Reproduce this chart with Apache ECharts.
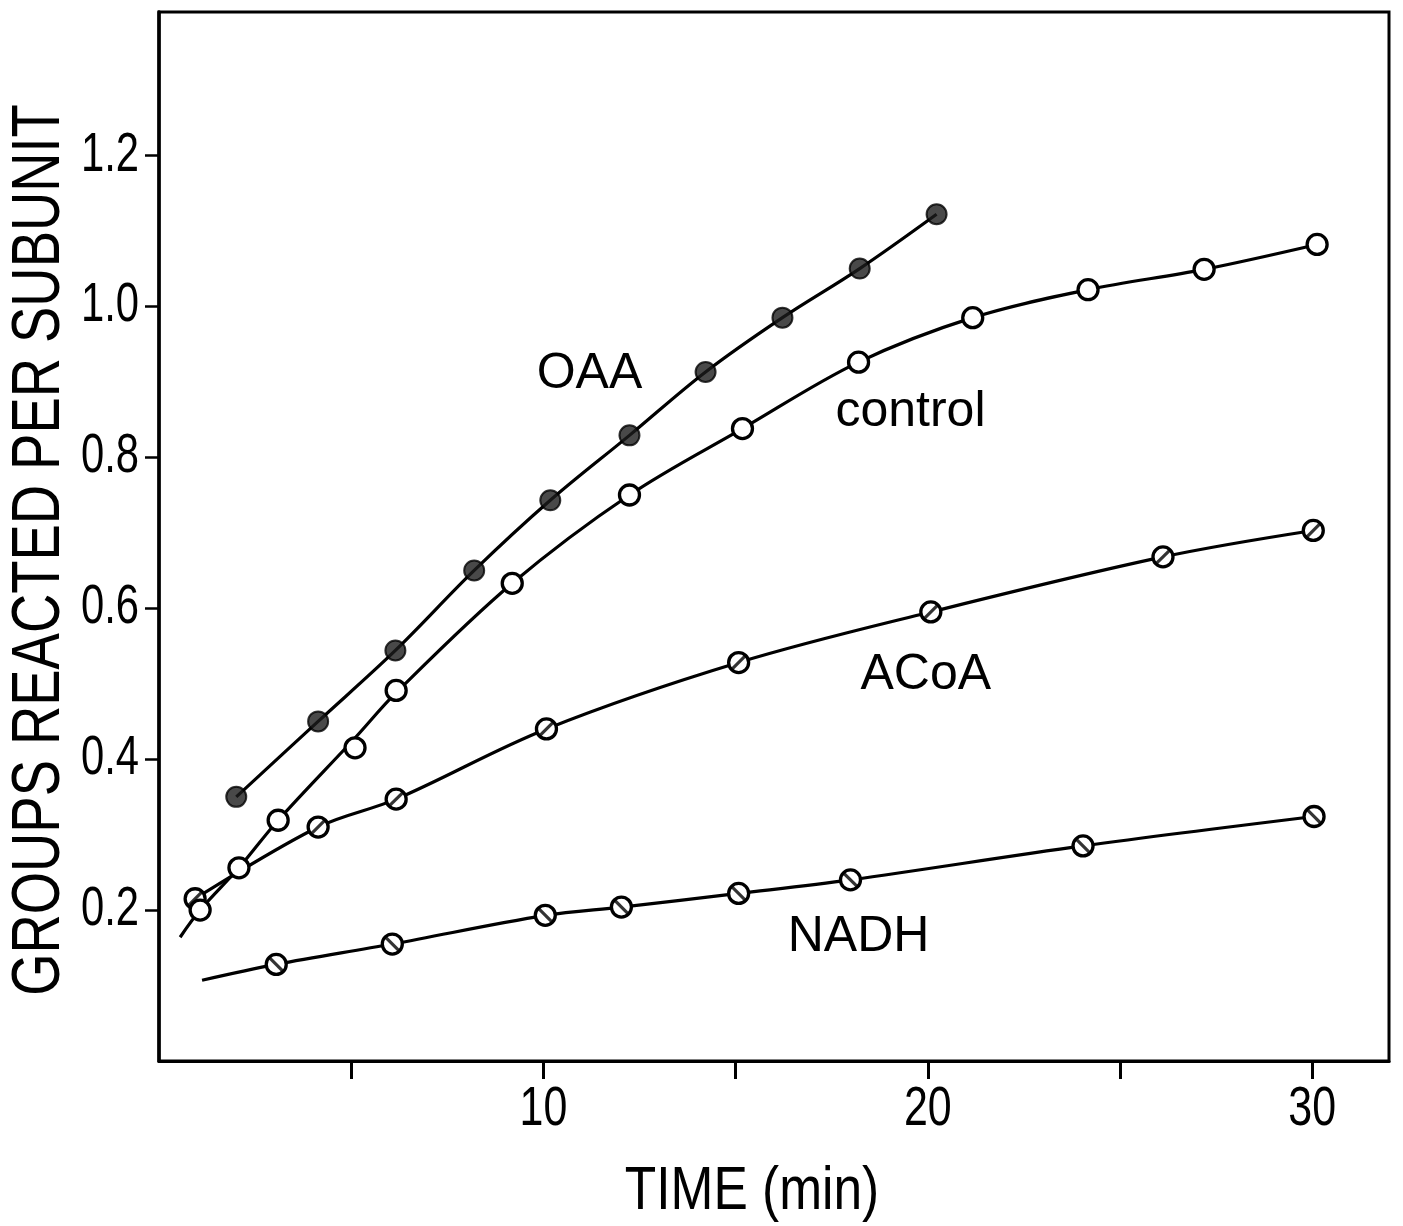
<!DOCTYPE html>
<html>
<head>
<meta charset="utf-8">
<script src="https://cdn.jsdelivr.net/npm/echarts@6/dist/echarts.min.js"></script>
<style>
  html, body { margin: 0; padding: 0; background: #fff; }
  #chart { width: 1403px; height: 1226px; }
</style>
</head>
<body>
<div id="chart"></div>
<script>
// ---- data ----
const oaaTime      = [2.01, 4.14, 6.15, 8.20, 10.18, 12.24, 14.22, 16.22, 18.23, 20.23];
const oaaGroups    = [0.350, 0.450, 0.544, 0.650, 0.743, 0.829, 0.913, 0.985, 1.050, 1.122];

const controlTime   = [1.07, 2.08, 3.10, 5.10, 6.17, 9.19, 12.24, 15.18, 18.20, 21.17, 24.17, 27.19, 30.13];
const controlGroups = [0.200, 0.256, 0.319, 0.415, 0.491, 0.633, 0.750, 0.838, 0.926, 0.985, 1.022, 1.049, 1.082];
// the drawn (fitted) control curve, read along the line itself
const controlCurveTime   = [0.55, 1.07, 2.08, 3.10, 5.10, 6.17, 9.19, 12.24, 15.18, 18.20, 21.17, 24.17, 27.19, 30.13];
const controlCurveGroups = [0.164, 0.200, 0.256, 0.319, 0.428, 0.488, 0.633, 0.750, 0.838, 0.926, 0.985, 1.022, 1.049, 1.082];

const acoaTime   = [0.94, 4.14, 6.17, 10.08, 15.08, 20.08, 26.12, 30.03];
const acoaGroups = [0.215, 0.310, 0.347, 0.440, 0.528, 0.595, 0.668, 0.703];

const nadhTime   = [3.05, 6.07, 10.05, 12.03, 15.08, 17.99, 24.04, 30.05];
const nadhGroups = [0.128, 0.155, 0.193, 0.204, 0.222, 0.240, 0.285, 0.324];
const nadhCurveStart = [1.12, 0.107];      // fitted curve begins here (no marker)

const xTickValues  = [5, 10, 15, 20, 25, 30];
const xLabelValues = [10, 20, 30];
const yTickValues  = [0.2, 0.4, 0.6, 0.8, 1.0, 1.2];

const xTitle = 'TIME (min)';
const yTitle = 'GROUPS REACTED PER SUBUNIT';

const curveLabels = [
  { text: 'OAA',     t: 11.2, g: 0.91 },
  { text: 'control', t: 19.55, g: 0.86 },
  { text: 'ACoA',    t: 19.95, g: 0.511 },
  { text: 'NADH',    t: 18.2, g: 0.164 }
];

// ---- build ----
const zip = (a, b) => a.map((v, i) => [v, b[i]]);
const oaa = zip(oaaTime, oaaGroups);
const control = zip(controlTime, controlGroups);
const controlCurve = zip(controlCurveTime, controlCurveGroups);
const acoa = zip(acoaTime, acoaGroups);
const nadh = zip(nadhTime, nadhGroups);

const FONT = "'Liberation Sans', Arimo, sans-serif";

const chart = echarts.init(document.getElementById('chart'), null, { renderer: 'canvas' });

const lineBase = {
  type: 'line', smooth: 0.35, showSymbol: false, symbol: 'none',
  lineStyle: { color: '#000', width: 3.2 }, z: 2, silent: true
};
const ring = {
  type: 'scatter', symbol: 'circle', symbolSize: 20,
  itemStyle: { color: '#fff', borderColor: '#000', borderWidth: 3.3, opacity: 1 },
  z: 5, silent: true
};
const slash = (data, rot) => ({
  type: 'scatter', symbol: 'rect', symbolSize: [3.2, 18], symbolRotate: rot,
  itemStyle: { color: '#000' }, data, z: 6, silent: true
});

const option = {
  animation: false,
  backgroundColor: '#fff',
  grid: {
    left: 159, right: 14, top: 12, bottom: 165,
    show: true, borderColor: '#000', borderWidth: 3, backgroundColor: 'transparent'
  },
  xAxis: {
    type: 'value', min: 0, max: 32, interval: 5,
    axisLine: { show: true, onZero: false, lineStyle: { color: '#000', width: 3 } },
    axisTick: { show: true, inside: false, length: 18, customValues: xTickValues,
                lineStyle: { color: '#000', width: 3 } },
    axisLabel: { show: false },
    splitLine: { show: false }
  },
  yAxis: {
    type: 'value', min: 0, max: 1.39, interval: 0.2,
    axisLine: { show: true, onZero: false, lineStyle: { color: '#000', width: 3.5 } },
    axisTick: { show: true, inside: false, length: 14, customValues: yTickValues,
                lineStyle: { color: '#000', width: 2.5 } },
    axisLabel: { show: false },
    splitLine: { show: false }
  },
  series: [
    Object.assign({}, lineBase, { name: 'OAA curve', data: oaa }),
    Object.assign({}, lineBase, { name: 'control curve', data: controlCurve }),
    Object.assign({}, lineBase, { name: 'ACoA curve', data: acoa }),
    Object.assign({}, lineBase, { name: 'NADH curve', data: [nadhCurveStart].concat(nadh) }),
    Object.assign({}, ring, { name: 'ACoA', data: acoa }),
    slash(acoa, -45),
    Object.assign({}, ring, { name: 'control', data: control, z: 7 }),
    Object.assign({}, ring, { name: 'NADH', data: nadh }),
    slash(nadh, 45),
    {
      type: 'scatter', name: 'OAA', symbol: 'circle', symbolSize: 20, data: oaa,
      itemStyle: { color: '#1c1c1c', borderColor: '#000', borderWidth: 2 }, z: 8, silent: true
    }
  ]
};
chart.setOption(option);

// ---- text placed through the chart's own axis scales (narrow lettering via scaleX) ----
const px = v => chart.convertToPixel({ gridIndex: 0 }, v);
const origin = px([0, 0]);
const graphics = [];

yTickValues.forEach(v => {
  const p = px([0, v]);
  graphics.push({
    type: 'text', x: origin[0] - 20, y: p[1], scaleX: 0.76,
    style: { text: v.toFixed(1), fill: '#000', font: '55px ' + FONT,
             textAlign: 'right', textVerticalAlign: 'middle' }
  });
});
xLabelValues.forEach(v => {
  const p = px([v, 0]);
  graphics.push({
    type: 'text', x: p[0], y: origin[1] + 49, scaleX: 0.78,
    style: { text: String(v), fill: '#000', font: '55px ' + FONT,
             textAlign: 'center', textVerticalAlign: 'middle' }
  });
});
curveLabels.forEach(d => {
  const p = px([d.t, d.g]);
  graphics.push({
    type: 'text', x: p[0], y: p[1],
    style: { text: d.text, fill: '#000', font: '50px ' + FONT,
             textAlign: 'center', textVerticalAlign: 'middle' }
  });
});
graphics.push({
  type: 'text', x: 752, y: 1192, scaleX: 0.83,
  style: { text: xTitle, fill: '#000', font: '62px ' + FONT,
           textAlign: 'center', textVerticalAlign: 'middle' }
});
graphics.push({
  type: 'text', x: 40, y: 550, rotation: Math.PI / 2, scaleX: 0.8,
  style: { text: yTitle, fill: '#000', font: '68px ' + FONT,
           textAlign: 'center', textVerticalAlign: 'middle' }
});
chart.setOption({ graphic: graphics });
</script>
</body>
</html>
